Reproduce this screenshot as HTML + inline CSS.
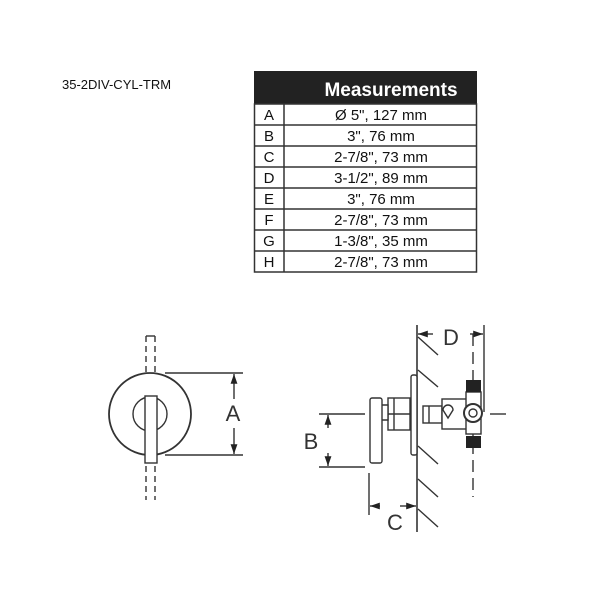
<!DOCTYPE html>
<html><head><meta charset="utf-8"><style>
html,body{margin:0;padding:0;background:#fff;}
svg{display:block;}
text{font-family:"Liberation Sans",Arial,sans-serif;}
</style></head><body>
<svg width="600" height="600" viewBox="0 0 600 600" xmlns="http://www.w3.org/2000/svg">
<defs>
<marker id="ar" viewBox="0 0 10 10" refX="10" refY="5" markerWidth="7" markerHeight="7" orient="auto-start-reverse"><path d="M0,1.5 L10,5 L0,8.5 z" fill="#222"/></marker>
</defs>
<text x="62" y="89" font-size="13" fill="#111">35-2DIV-CYL-TRM</text>

<!-- table -->
<rect x="254" y="71" width="223" height="33" fill="#222"/>
<text x="391" y="96" font-size="19" font-weight="bold" fill="#fff" text-anchor="middle">Measurements</text>
<g stroke="#333" stroke-width="1.5" fill="none">
<rect x="254.5" y="104" width="222" height="168"/>
<line x1="284" y1="104" x2="284" y2="272"/>
<line x1="254" y1="125" x2="477" y2="125"/>
<line x1="254" y1="146" x2="477" y2="146"/>
<line x1="254" y1="167" x2="477" y2="167"/>
<line x1="254" y1="188" x2="477" y2="188"/>
<line x1="254" y1="209" x2="477" y2="209"/>
<line x1="254" y1="230" x2="477" y2="230"/>
<line x1="254" y1="251" x2="477" y2="251"/>
</g>
<g font-size="15" fill="#111">
<g text-anchor="middle">
<text x="269" y="120">A</text><text x="269" y="141">B</text><text x="269" y="162">C</text><text x="269" y="183">D</text>
<text x="269" y="204">E</text><text x="269" y="225">F</text><text x="269" y="246">G</text><text x="269" y="267">H</text>
<text x="381" y="120">Ø 5", 127 mm</text>
<text x="381" y="141">3", 76 mm</text>
<text x="381" y="162">2-7/8", 73 mm</text>
<text x="381" y="183">3-1/2", 89 mm</text>
<text x="381" y="204">3", 76 mm</text>
<text x="381" y="225">2-7/8", 73 mm</text>
<text x="381" y="246">1-3/8", 35 mm</text>
<text x="381" y="267">2-7/8", 73 mm</text>
</g></g>

<!-- left front view -->
<g stroke="#333" stroke-width="1.4" fill="none">
<line x1="146" y1="336" x2="146" y2="500" stroke-dasharray="6,4"/>
<line x1="155" y1="336" x2="155" y2="500" stroke-dasharray="6,4"/>
<line x1="146" y1="336" x2="155" y2="336"/>
<circle cx="150" cy="414" r="41" fill="#fff" stroke-width="1.8"/>
<circle cx="150" cy="414" r="17"/>
<rect x="145" y="396" width="12" height="67" fill="#fff"/>
<line x1="165" y1="373" x2="243" y2="373"/>
<line x1="165" y1="455" x2="243" y2="455"/>
<line x1="234" y1="399" x2="234" y2="374" marker-end="url(#ar)"/>
<line x1="234" y1="428" x2="234" y2="454" marker-end="url(#ar)"/>
</g>
<text x="233" y="421" font-size="22" fill="#333" text-anchor="middle">A</text>

<!-- right side view -->
<g stroke="#333" stroke-width="1.4" fill="none">
<line x1="417" y1="325" x2="417" y2="532" stroke-width="1.6"/>
<line x1="418" y1="337" x2="438" y2="355"/>
<line x1="418" y1="370" x2="438" y2="387"/>
<line x1="418" y1="446" x2="438" y2="464"/>
<line x1="418" y1="479" x2="438" y2="497"/>
<line x1="418" y1="509" x2="438" y2="527"/>
<!-- D -->
<line x1="484" y1="325" x2="484" y2="412"/>
<line x1="433" y1="334" x2="418" y2="334" marker-end="url(#ar)"/>
<line x1="470" y1="334" x2="483" y2="334" marker-end="url(#ar)"/>
<line x1="473" y1="334" x2="473" y2="497" stroke-dasharray="12,6"/>
<!-- centerline -->
<line x1="490" y1="414" x2="506" y2="414"/>
<!-- escutcheon -->
<rect x="411" y="375" width="6" height="80" rx="2" fill="#fff"/>
<!-- hub -->
<rect x="388" y="398" width="22" height="32" fill="#fff"/>
<line x1="394" y1="398" x2="394" y2="430"/>
<line x1="388" y1="414" x2="410" y2="414"/>
<path d="M382,405 L388,405 L388,420 L382,420 Q376,412 382,405 z" fill="#fff"/>
<!-- lever -->
<rect x="370" y="398" width="12" height="65" rx="2" fill="#fff"/>
<!-- stem -->
<rect x="423" y="406" width="19" height="17" fill="#fff"/>
<line x1="429" y1="406" x2="429" y2="423"/>
<!-- body -->
<rect x="442" y="399" width="31" height="30" fill="#fff"/>
<path d="M448,414 m-5,-4 a5,5 0 1,1 10,0 l-5,8 z"/>
<rect x="466" y="392" width="15" height="42" fill="#fff"/>
<circle cx="473" cy="413" r="9" fill="#fff" stroke-width="2"/>
<circle cx="473" cy="413" r="4"/>
<!-- B -->
<line x1="319" y1="414" x2="365" y2="414"/>
<line x1="319" y1="467" x2="365" y2="467"/>
<line x1="328" y1="428" x2="328" y2="415" marker-end="url(#ar)"/>
<line x1="328" y1="453" x2="328" y2="466" marker-end="url(#ar)"/>
<!-- C -->
<line x1="369" y1="473" x2="369" y2="515"/>
<line x1="380" y1="506" x2="370" y2="506" marker-end="url(#ar)"/>
<line x1="400" y1="506" x2="416" y2="506" marker-end="url(#ar)"/>
</g>
<rect x="466" y="380" width="15" height="12" fill="#222"/>
<rect x="466" y="436" width="15" height="12" fill="#222"/>
<text x="451" y="345" font-size="22" fill="#333" text-anchor="middle">D</text>
<text x="311" y="449" font-size="22" fill="#333" text-anchor="middle">B</text>
<text x="395" y="530" font-size="22" fill="#333" text-anchor="middle">C</text>
</svg>
</body></html>
